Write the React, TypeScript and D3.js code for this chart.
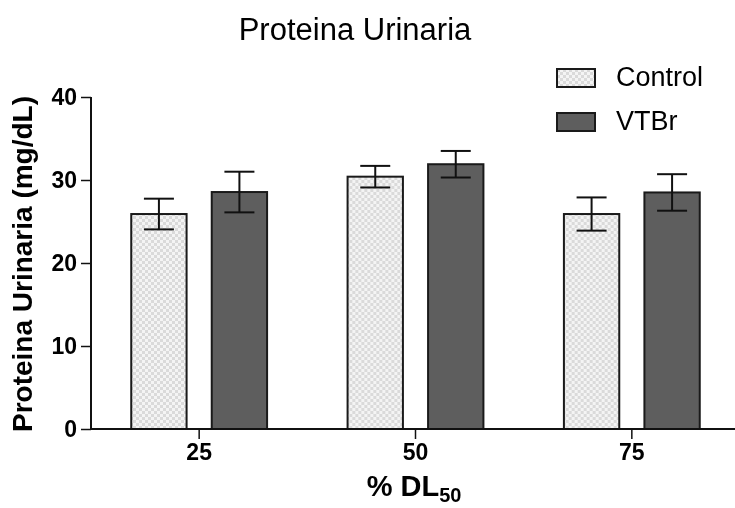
import React, { useEffect, useRef } from "react";
import * as d3 from "d3";

// dose groups (% DL50)
const categories = ["25", "50", "75"];
const seriesNames = ["Control", "VTBr"];
// mean urinary protein (mg/dL) and error (SEM)
const controlValues = [25.9, 30.4, 25.9];
const controlErrors = [1.85, 1.3, 2.0];
const vtbrValues = [28.55, 31.9, 28.5];
const vtbrErrors = [2.45, 1.6, 2.2];
const yTicks = [0, 10, 20, 30, 40];

const FONT = "'Liberation Sans', Arial, sans-serif";

const App = () => {
  const ref = useRef<SVGSVGElement>(null);

  useEffect(() => {
    const width = 735;
    const height = 508;
    const svg = d3.select(ref.current);
    svg.selectAll("*").remove();
    svg.attr("width", width).attr("height", height);

    // checker pattern for the Control bars
    const defs = svg.append("defs");
    const pat = defs
      .append("pattern")
      .attr("id", "checker")
      .attr("width", 6)
      .attr("height", 6)
      .attr("patternUnits", "userSpaceOnUse");
    pat.append("rect").attr("width", 6).attr("height", 6).attr("fill", "#f4f4f4");
    pat.append("rect").attr("width", 3).attr("height", 3).attr("fill", "#dadada");
    pat.append("rect").attr("x", 3).attr("y", 3).attr("width", 3).attr("height", 3).attr("fill", "#dadada");

    const fills: Record<string, string> = { Control: "url(#checker)", VTBr: "#5e5e5e" };

    const rows = categories.map((c, i) => ({
      cat: c,
      bars: [
        { name: "Control", value: controlValues[i], err: controlErrors[i] },
        { name: "VTBr", value: vtbrValues[i], err: vtbrErrors[i] },
      ],
    }));

    const x0 = d3.scaleBand().domain(categories).range([91, 740]).padding(0);
    const x1 = d3
      .scaleBand()
      .domain(seriesNames)
      .range([0, x0.bandwidth()])
      .paddingInner(0.3125)
      .paddingOuter(0.5);
    const y = d3.scaleLinear().domain([0, 40]).range([429, 97]);

    // bars
    const groups = svg
      .append("g")
      .selectAll("g")
      .data(rows)
      .enter()
      .append("g")
      .attr("transform", (d) => `translate(${x0(d.cat)},0)`);

    groups
      .selectAll("rect")
      .data((d) => d.bars)
      .enter()
      .append("rect")
      .attr("x", (d) => x1(d.name)!)
      .attr("y", (d) => y(d.value))
      .attr("width", x1.bandwidth())
      .attr("height", (d) => y(0) - y(d.value))
      .attr("fill", (d) => fills[d.name])
      .attr("stroke", "#1a1a1a")
      .attr("stroke-width", 2);

    // error bars
    const cap = 15;
    const eb = groups
      .selectAll("g.err")
      .data((d) => d.bars)
      .enter()
      .append("g")
      .attr("class", "err")
      .attr("stroke", "#111")
      .attr("stroke-width", 2);
    const cx = (d: any) => x1(d.name)! + x1.bandwidth() / 2;
    eb.append("line")
      .attr("x1", cx)
      .attr("x2", cx)
      .attr("y1", (d) => y(d.value + d.err))
      .attr("y2", (d) => y(d.value - d.err));
    eb.append("line")
      .attr("x1", (d) => cx(d) - cap)
      .attr("x2", (d) => cx(d) + cap)
      .attr("y1", (d) => y(d.value + d.err))
      .attr("y2", (d) => y(d.value + d.err));
    eb.append("line")
      .attr("x1", (d) => cx(d) - cap)
      .attr("x2", (d) => cx(d) + cap)
      .attr("y1", (d) => y(d.value - d.err))
      .attr("y2", (d) => y(d.value - d.err));

    // axes
    const yAxis = svg
      .append("g")
      .attr("transform", "translate(91,0)")
      .call(d3.axisLeft(y).tickValues(yTicks).tickSize(10).tickSizeOuter(0).tickPadding(4));
    const xAxis = svg
      .append("g")
      .attr("transform", "translate(0,429)")
      .call(d3.axisBottom(x0).tickSize(10).tickSizeOuter(0).tickPadding(5));

    [yAxis, xAxis].forEach((a) => {
      a.select(".domain").attr("stroke", "#111").attr("stroke-width", 2);
      a.selectAll(".tick line").attr("stroke", "#111").attr("stroke-width", 1.5);
      a.selectAll(".tick text")
        .attr("fill", "#000")
        .style("font-family", FONT)
        .style("font-weight", "bold")
        .style("font-size", "23px");
    });
    yAxis.select(".domain").attr("d", `M0,${y(40)}V${y(0) + 1}`);
    xAxis.select(".domain").attr("d", `M91,0H735`);

    // title
    svg
      .append("text")
      .attr("x", 355)
      .attr("y", 40)
      .attr("text-anchor", "middle")
      .style("font-family", FONT)
      .style("font-size", "31px")
      .text("Proteina Urinaria");

    // axis titles
    svg
      .append("text")
      .attr("transform", `translate(32,${(y(0) + y(40)) / 2 + 1}) rotate(-90)`)
      .attr("text-anchor", "middle")
      .style("font-family", FONT)
      .style("font-weight", "bold")
      .style("font-size", "28px")
      .text("Proteina Urinaria (mg/dL)");

    const xt = svg
      .append("text")
      .attr("x", 414)
      .attr("y", 496)
      .attr("text-anchor", "middle")
      .style("font-family", FONT)
      .style("font-weight", "bold")
      .style("font-size", "29px");
    xt.append("tspan").text("% DL");
    xt.append("tspan").attr("dy", 6).style("font-size", "20px").text("50");

    // legend
    const legend = svg
      .append("g")
      .selectAll("g")
      .data(seriesNames)
      .enter()
      .append("g")
      .attr("transform", (_, i) => `translate(557,${69 + i * 44})`);
    legend
      .append("rect")
      .attr("width", 38)
      .attr("height", 18)
      .attr("fill", (d) => fills[d])
      .attr("stroke", "#1a1a1a")
      .attr("stroke-width", 2);
    legend
      .append("text")
      .attr("x", 59)
      .attr("y", 17)
      .style("font-family", FONT)
      .style("font-size", "27px")
      .text((d) => d);
  }, []);

  return (
    <div style={{ position: "fixed", left: 0, top: 0 }}>
      <svg ref={ref} style={{ display: "block" }} />
    </div>
  );
};

export default App;
